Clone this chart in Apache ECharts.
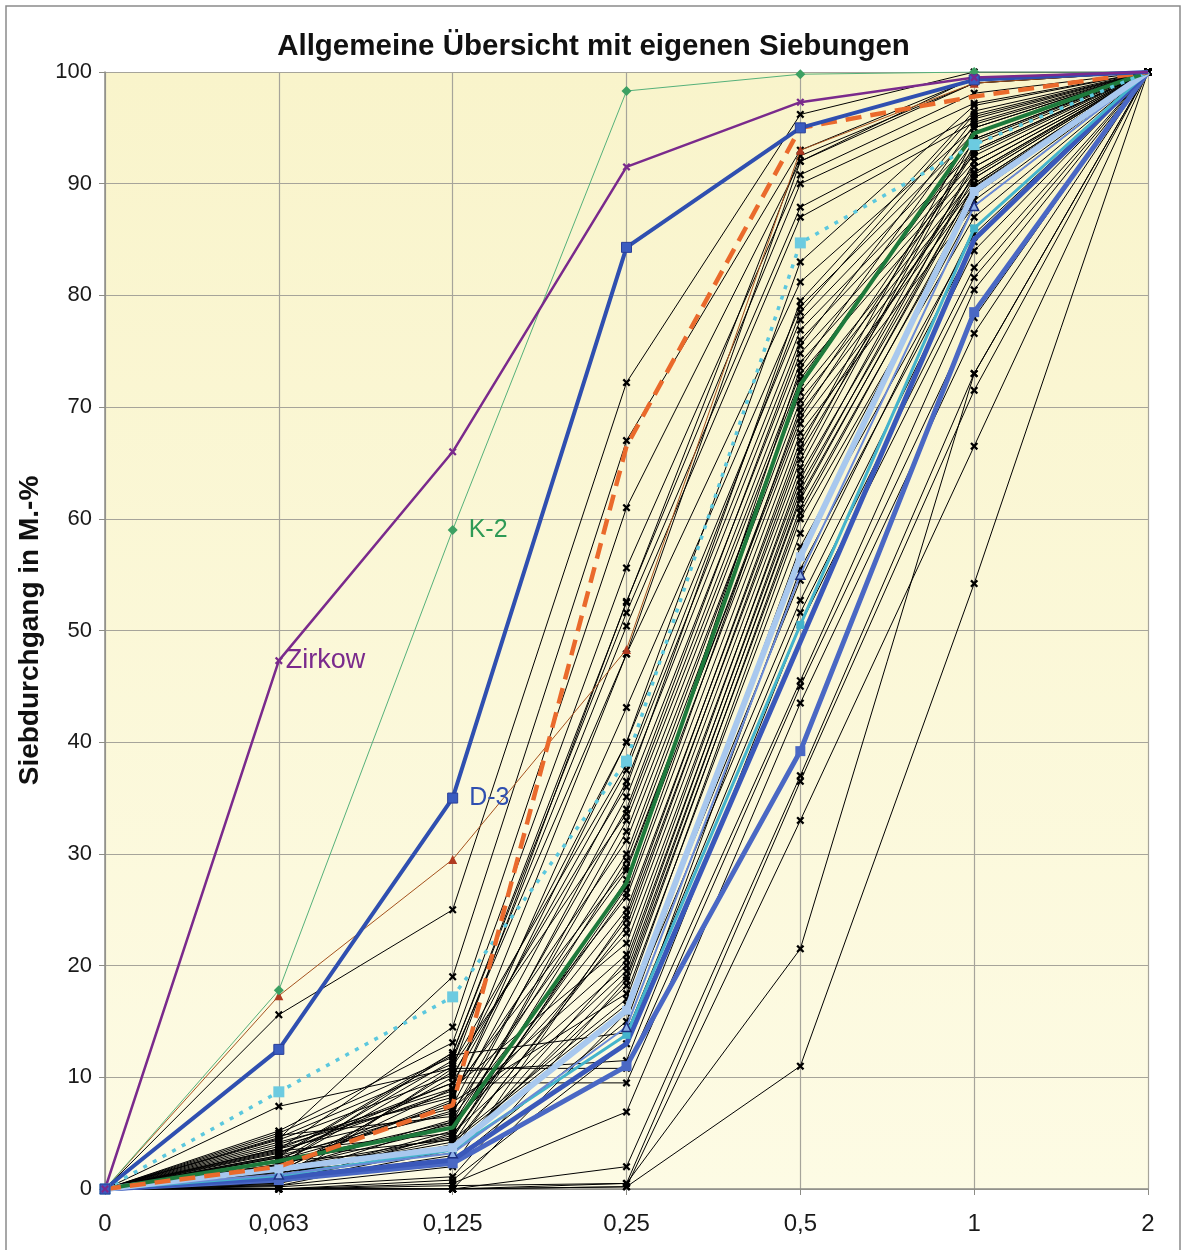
<!DOCTYPE html>
<html>
<head>
<meta charset="utf-8">
<script src="https://cdn.jsdelivr.net/npm/echarts@6/dist/echarts.min.js"></script>
<style>html,body{margin:0;padding:0;background:#fff;}#c{width:1187px;height:1250px;}</style>
</head>
<body>
<div id="c"></div>
<script>
// ---- DATA ----
const categories = ['0', '0,063', '0,125', '0,25', '0,5', '1', '2'];
const yTicks = [0, 10, 20, 30, 40, 50, 60, 70, 80, 90, 100];

// individual sieve analyses (black lines), values in M.-% passing
const sieveLines = [
  [0, 15.6, 25, 72.2, 96.2, 100, 100],
  [0, 4.5, 19, 67, 93, 99.4, 100],
  [0, 3.5, 14.5, 61, 92, 99, 100],
  [0, 5.2, 13.1, 55.6, 90.8, 98.1, 100],
  [0, 7.4, 10.8, 52.6, 90, 97.2, 100],
  [0, 3, 12.2, 51.6, 87.9, 96, 100],
  [0, 2.5, 11.5, 50.4, 87, 95.5, 100],
  [0, 4, 9, 47.9, 81.2, 95, 100],
  [0, 2, 8, 43.1, 79, 94.5, 100],
  [0, 1.5, 10, 40, 77.8, 94, 100],
  [0, 3.2, 9.5, 37.5, 76.9, 93, 100],
  [0, 2.8, 7.5, 36.5, 76, 92.5, 100],
  [0, 1, 6, 35.1, 74.8, 92, 100],
  [0, 2.2, 11, 33.6, 74, 91.5, 100],
  [0, 0.5, 5, 33, 73, 91, 100],
  [0, 3.8, 8.5, 31.2, 71.3, 90.5, 100],
  [0, 1.2, 4.5, 29.4, 70.6, 90, 100],
  [0, 2.6, 7, 28.5, 69.5, 89.7, 100],
  [0, 0.8, 4, 27.7, 68.5, 89.2, 100],
  [0, 4.8, 6.5, 26.1, 67.7, 88, 100],
  [0, 1.8, 5.5, 25, 66.4, 95, 100],
  [0, 0.3, 3.5, 24.1, 65.3, 94, 100],
  [0, 2.4, 6, 22.9, 64.6, 93.5, 100],
  [0, 1.6, 9, 22, 63.5, 92, 100],
  [0, 0.6, 3, 20.5, 62.5, 91, 100],
  [0, 3.4, 5, 19.5, 61.7, 90, 100],
  [0, 0.2, 1.1, 18.7, 60.5, 89, 100],
  [0, 2, 7.8, 17.5, 58.7, 88, 100],
  [0, 1.4, 4.2, 16.5, 54.5, 86, 100],
  [0, 0, 0, 15.8, 52.7, 84, 100],
  [0, 2.9, 12, 14, 51.6, 82.5, 100],
  [0, 1, 10.5, 11.5, 50.5, 81.6, 100],
  [0, 0.4, 10.8, 10.8, 45.5, 80.5, 100],
  [0, 3.6, 9.5, 9.5, 45, 78, 100],
  [0, 0, 0.5, 6.9, 43.5, 76.6, 100],
  [0, 0, 0, 2, 37, 73, 100],
  [0, 0, 0, 0.5, 36.5, 71.5, 100],
  [0, 0, 0, 0.2, 33, 66.5, 100],
  [0, 0, 0.3, 0.5, 21.5, 73, 100],
  [0, 0, 0, 0.2, 11, 54.2, 100],
  [0, 5, 11.8, 47.9, 92, 99.5, 100],
  [0, 4.2, 8.2, 40, 83, 97, 100],
  [0, 3, 6.8, 34, 75.5, 95.8, 100],
  [0, 2.2, 5.8, 30, 71.8, 94.5, 100],
  [0, 1.2, 4.8, 26.5, 70, 93, 100],
  [0, 0.5, 3.8, 23.5, 66, 91.5, 100],
  [0, 3.6, 7.2, 21, 64, 90.5, 100],
  [0, 1.5, 3.2, 19, 62, 89.5, 100],
  [0, 2.8, 4.4, 17, 60, 87, 100],
  [0, 0.7, 2.5, 15, 57.5, 85.5, 100],
  [0, 4.4, 10.2, 36, 79.5, 96.5, 100],
  [0, 2.1, 12.2, 52.5, 92.5, 99, 100],
  [0, 1, 5.2, 32, 72.5, 93.8, 100],
  [0, 3.3, 8.8, 28.8, 69, 92.8, 100],
  [0, 0.3, 2, 24.5, 67, 90.8, 100],
  [0, 1.7, 6.2, 20, 63, 89.8, 100],
  [0, 2.5, 3.6, 18.2, 61, 88.5, 100],
  [0, 0, 0.8, 13, 55.5, 84.8, 100],
  [0, 4.6, 11.2, 38, 78.5, 96.2, 100],
  [0, 1.9, 4.6, 27, 73.5, 95.3, 100]
];

// highlighted samples
const zirkow    = [0, 47.3, 66, 91.5, 97.3, 99.5, 100];
const k2        = [0, 17.8, 59, 98.3, 99.8, 100, 100];
const d3        = [0, 12.5, 35, 84.3, 95, 99.3, 100];
const orangeDash= [0, 2, 7.5, 66.5, 95, 97.8, 100];
const cyanDot   = [0, 8.7, 17.2, 38.3, 84.7, 93.5, 100];
const brownTri  = [0, 17.3, 29.5, 48.3, 93, 99, 100];
const darkGreen = [0, 2.5, 5.5, 27.4, 72, 94.5, 100];
const lightBlue = [0, 1.8, 3.7, 16, 56.6, 89.3, 100];
const navyTri   = [0, 1.3, 3.2, 14.5, 55, 88, 100];
const teal      = [0, 1.2, 3.5, 13.8, 50.5, 86, 100];
const blueA     = [0, 1, 2.6, 13, 49, 85, 100];
const blueB     = [0, 0.8, 2.3, 11, 39.2, 78.5, 100];

// ---- CHART ----
const FONT = 'Liberation Sans, Arial, sans-serif';
const X_SYM = 'path://M0,2L2,0L5,3L8,0L10,2L7,5L10,8L8,10L5,7L2,10L0,8L3,5Z';
const series = [];
sieveLines.forEach(d => series.push({
  type: 'line', data: d, symbol: X_SYM, symbolSize: 8, showAllSymbol: true,
  lineStyle: { color: '#000', width: 1 }, itemStyle: { color: '#000' }, z: 2
}));
function prep(arr, idx, text, color, dist, fs) {
  return arr.map((v, i) => {
    if (i === idx) return {
      value: v,
      label: { show: true, position: 'right', distance: dist, formatter: text, color: color,
               fontSize: fs || 25, fontFamily: FONT }
    };
    if (i === arr.length - 1) return { value: v, symbol: 'none' };
    return v;
  });
}
function add(data, o) {
  series.push(Object.assign({ type: 'line', data: data, z: 3, showAllSymbol: true }, o));
}
add(prep(brownTri), { symbol: 'triangle', symbolSize: 9, lineStyle: { color: '#a4521e', width: 1 }, itemStyle: { color: '#b03a20' } });
add(prep(k2, 2, 'K-2', '#2e9a55', 11), { symbol: 'diamond', symbolSize: 10, lineStyle: { color: '#55b07a', width: 1 }, itemStyle: { color: '#3ca062' } });
add(prep(blueB), { symbol: 'rect', symbolSize: 10, lineStyle: { color: '#4a68c4', width: 5 }, itemStyle: { color: '#4a68c4' } });
add(prep(blueA), { symbol: 'none', lineStyle: { color: '#3a58ba', width: 5 } });
add(prep(teal), { symbol: 'rect', symbolSize: 8, lineStyle: { color: '#44b4cc', width: 3 }, itemStyle: { color: '#44b4cc' } });
add(prep(navyTri), { symbol: 'triangle', symbolSize: 9, lineStyle: { color: '#6a8ad6', width: 2 }, itemStyle: { color: '#8fb0e8', borderColor: '#1c2f80', borderWidth: 1.5 } });
add(prep(lightBlue), { symbol: 'rect', symbolSize: 9, lineStyle: { color: '#a8c8ee', width: 6 }, itemStyle: { color: '#a8c8ee' } });
add(prep(darkGreen), { symbol: 'none', lineStyle: { color: '#1e7a3c', width: 4 } });
add(prep(cyanDot), { symbol: 'rect', symbolSize: 11, lineStyle: { color: '#5cc8de', width: 3.5, type: [4, 7] }, itemStyle: { color: '#6ccbe0' } });
add(prep(orangeDash), { symbol: 'none', lineStyle: { color: '#ea6a2c', width: 4.5, type: [16, 9] } });
add(prep(d3, 2, 'D-3', '#2f4fb0', 11), { symbol: 'rect', symbolSize: 10, lineStyle: { color: '#2f4fb0', width: 4 }, itemStyle: { color: '#3a5cc0', borderColor: '#2a3f98', borderWidth: 1 } });
add(prep(zirkow, 1, 'Zirkow', '#7a2a8c', 3, 27), { symbol: X_SYM, symbolSize: 8, lineStyle: { color: '#7a2a8c', width: 2.5 }, itemStyle: { color: '#7a2a8c' } });

const chart = echarts.init(document.getElementById('c'), null, { renderer: 'canvas' });
chart.setOption({
  animation: false,
  backgroundColor: '#ffffff',
  title: {
    text: 'Allgemeine Übersicht mit eigenen Siebungen',
    left: 'center', top: 27, padding: [5, 0, 5, 10],
    textStyle: { fontSize: 29.5, fontWeight: 'bold', color: '#111', fontFamily: FONT }
  },
  graphic: [{
    type: 'rect', shape: { x: 6, y: 6, width: 1174, height: 1250 },
    style: { fill: 'none', stroke: '#8a8a8a', lineWidth: 1.5 }, silent: true, z: 100
  }],
  grid: {
    left: 105, right: 39, top: 72, bottom: 61, show: true, borderWidth: 0,
    backgroundColor: { type: 'linear', x: 0, y: 0, x2: 0, y2: 1,
      colorStops: [{ offset: 0, color: '#f9f4cb' }, { offset: 1, color: '#fdfbe4' }] }
  },
  xAxis: {
    type: 'category', data: categories, boundaryGap: false,
    axisLine: { lineStyle: { color: '#8c8c86', width: 1.5 } },
    axisTick: { show: true, length: 6, lineStyle: { color: '#8c8c86' } },
    axisLabel: { margin: 23, fontSize: 24, color: '#1a1a1a', fontFamily: FONT },
    splitLine: { show: true, lineStyle: { color: '#a6a49a', width: 1.2 } }
  },
  yAxis: {
    type: 'value', min: 0, max: 100, interval: 10,
    name: 'Siebdurchgang in M.-%', nameLocation: 'middle', nameGap: 48, nameRotate: 90,
    nameTextStyle: { fontSize: 28, fontWeight: 'bold', color: '#111', fontFamily: FONT },
    axisLine: { show: true, lineStyle: { color: '#8c8c86', width: 1.5 } },
    axisTick: { show: true, length: 6, lineStyle: { color: '#8c8c86' } },
    axisLabel: { margin: 13, fontSize: 22, color: '#1a1a1a', fontFamily: FONT,
                 formatter: v => yTicks.indexOf(v) >= 0 ? String(v) : '' },
    splitLine: { show: true, lineStyle: { color: '#a6a49a', width: 1.2 } }
  },
  series: series
});
</script>
</body>
</html>
